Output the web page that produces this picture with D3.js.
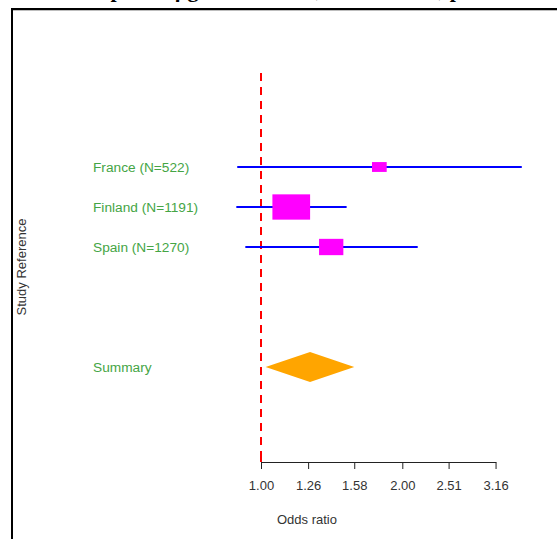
<!DOCTYPE html>
<html>
<head>
<meta charset="utf-8">
<script src="https://cdn.jsdelivr.net/npm/d3@7"></script>
<style>
  html, body { margin: 0; padding: 0; background: #fff; overflow: hidden; }
  svg { display: block; }
</style>
</head>
<body>
<script>
// ---- data ----
const studies   = ["France (N=522)", "Finland (N=1191)", "Spain (N=1270)"];
const orMean    = [1.787, 1.160, 1.411];
const orLower   = [0.890, 0.886, 0.926];
const orUpper   = [3.594, 1.522, 2.157];
const boxWeight = [0.39, 1.00, 0.645];
const summaryLabel = "Summary";
const summaryOR = [1.023, 1.272, 1.580]; // lower, mean, upper
const tickValues = [1.00, 1.26, 1.58, 2.00, 2.51, 3.16];
const titleText = "Odds ratio per 10 \u03bcg/m3 increase, fixed effects, pooled estimate";
const xLabel = "Odds ratio";
const yLabel = "Study Reference";

const W = 557, H = 539;
const svg = d3.select("body").append("svg").attr("width", W).attr("height", H);

// frame
svg.append("line").attr("x1", 12).attr("x2", W + 5).attr("y1", 10.5).attr("y2", 10.5)
  .attr("stroke", "#bdbdbd").attr("stroke-width", 1);
svg.append("rect").attr("x", 12).attr("y", 9).attr("width", W + 20).attr("height", H + 20)
  .attr("fill", "none").attr("stroke", "#000").attr("stroke-width", 2);

// title (mostly clipped above the window, as in the reference)
svg.append("text").attr("x", 300).attr("y", -3).attr("text-anchor", "middle")
  .attr("font-family", "'Liberation Serif', serif").attr("font-weight", "bold")
  .attr("font-size", 22).attr("fill", "#000").text(titleText);

const x = d3.scaleLog().domain([1, Math.pow(10, 0.5)]).range([261, 495.7]);
const y = d3.scaleLinear().domain([0, 5]).range([167, 367]);
const axisY = 462;

// reference line at OR = 1
svg.append("line").attr("x1", x(1)).attr("x2", x(1))
  .attr("y1", y(-2.35)).attr("y2", axisY)
  .attr("stroke", "#ff0000").attr("stroke-width", 2).attr("stroke-dasharray", "8,6");

// axis
const axis = d3.axisBottom(x).tickValues(tickValues).tickFormat(d3.format(".2f"))
  .tickSize(7).tickSizeOuter(0).tickPadding(12);
const gA = svg.append("g").attr("transform", `translate(0,${axisY})`).call(axis);
gA.selectAll("path.domain").attr("stroke", "#222").attr("stroke-width", 1);
gA.selectAll(".tick line").attr("stroke", "#222").attr("stroke-width", 1);
gA.selectAll(".tick text").attr("font-family", "'Liberation Sans', Arial, sans-serif")
  .attr("font-size", 13).attr("fill", "#333");
// red tip over the first tick
svg.append("line").attr("x1", x(1)).attr("x2", x(1)).attr("y1", axisY - 6).attr("y2", axisY)
  .attr("stroke", "#ff0000").attr("stroke-width", 2);

// axis labels
svg.append("text").attr("x", 307).attr("y", 524).attr("text-anchor", "middle")
  .attr("font-family", "'Liberation Sans', Arial, sans-serif").attr("font-size", 13)
  .attr("fill", "#333").text(xLabel);
svg.append("text").attr("transform", "translate(26,267) rotate(-90)").attr("text-anchor", "middle")
  .attr("font-family", "'Liberation Sans', Arial, sans-serif").attr("font-size", 13)
  .attr("fill", "#333").text(yLabel);

const labelFont = "'Liberation Sans', Arial, sans-serif";
const green = "#45a545";

// study rows
const rows = studies.map((s, i) => ({ s, m: orMean[i], lo: orLower[i], hi: orUpper[i], w: boxWeight[i], i }));
const g = svg.append("g");
g.selectAll("text.lab").data(rows).enter().append("text")
  .attr("x", 93).attr("y", d => y(d.i) + 5)
  .attr("font-family", labelFont).attr("font-size", 13.7).attr("fill", green)
  .text(d => d.s);
g.selectAll("line.ci").data(rows).enter().append("line")
  .attr("x1", d => x(d.lo)).attr("x2", d => x(d.hi))
  .attr("y1", d => y(d.i)).attr("y2", d => y(d.i))
  .attr("stroke", "#0000ff").attr("stroke-width", 2);
g.selectAll("rect.box").data(rows).enter().append("rect")
  .attr("x", d => x(d.m) - d.w * 37.7 / 2).attr("y", d => y(d.i) - d.w * 25.3 / 2)
  .attr("width", d => d.w * 37.7).attr("height", d => d.w * 25.3)
  .attr("fill", "#ff00ff");

// summary
const sy = y(5);
svg.append("text").attr("x", 93).attr("y", sy + 5)
  .attr("font-family", labelFont).attr("font-size", 13.7).attr("fill", green).text(summaryLabel);
svg.append("path")
  .attr("d", d3.line()([[x(summaryOR[0]), sy], [x(summaryOR[1]), sy - 15], [x(summaryOR[2]), sy], [x(summaryOR[1]), sy + 15]]) + "Z")
  .attr("fill", "#ffa500");
</script>
</body>
</html>
